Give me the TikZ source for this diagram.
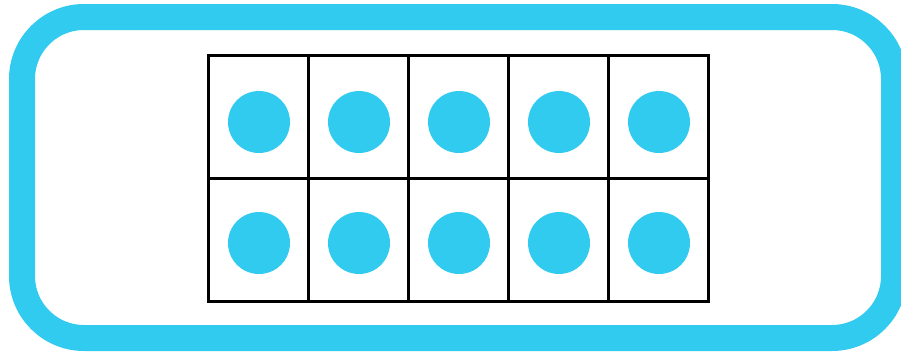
\documentclass[tikz,border=0pt]{standalone}
\usepackage{tikz}
\definecolor{framecyan}{RGB}{50,203,240}

\begin{document}
\begin{tikzpicture}[x=0.75pt, y=-0.75pt,
    cell/.style={draw=black, line width=2.25pt, minimum width=75pt, minimum height=92.6pt, inner sep=0pt, outer sep=0pt},
    counter/.style={circle, fill=framecyan, minimum size=46.5pt, inner sep=0pt}]
      \useasboundingbox (0,0) rectangle (901,354);

      % Outer rounded frame
      \draw[framecyan, line width=19.5pt, rounded corners=46.5pt] (22,17) rectangle (894,338);

      % Ten frame: two rows of five cells
      \foreach \r in {1,2}{
        \foreach \c in {1,...,5}{
          \node[cell] (cell-\r-\c) at ({158+100*\c}, {55+123.5*(\r-0.5)}) {};
        }
      }

      % Counters, one in every cell
      \foreach \r/\y in {1/122, 2/243}{
        \foreach \c in {1,...,5}{
          \node[counter] (dot-\r-\c) at ({159+100*\c}, \y) {};
        }
      }
    \end{tikzpicture}
\end{document}
